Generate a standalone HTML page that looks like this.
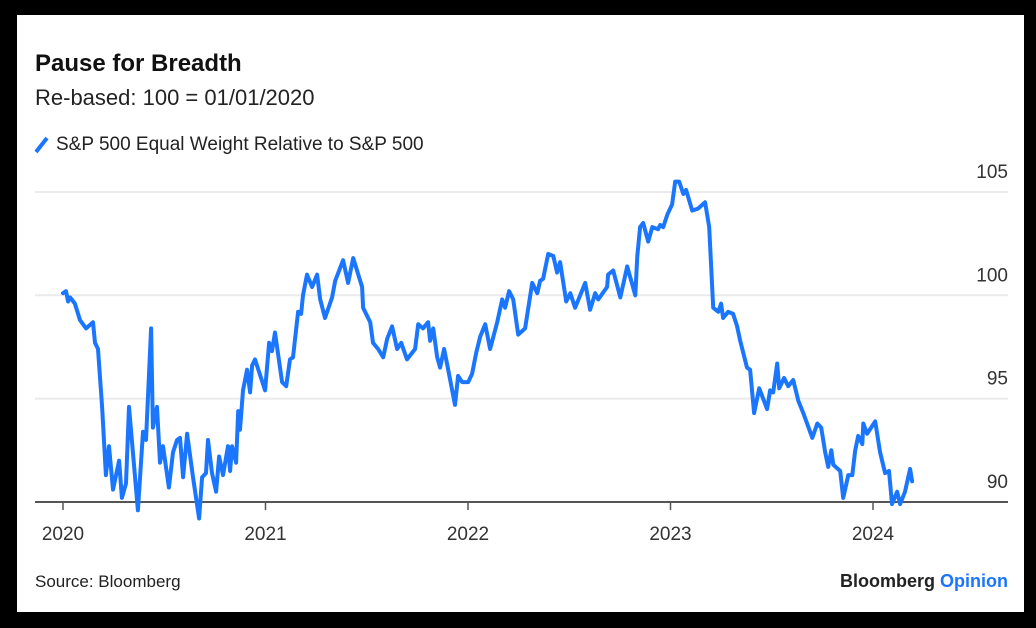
<!DOCTYPE html>
<html><head><meta charset="utf-8"><style>
body{margin:0;background:#000;width:1036px;height:628px;overflow:hidden;font-family:"Liberation Sans",sans-serif}
#panel{position:absolute;left:17px;top:15px;width:1007px;height:597px;background:#fff}
svg{position:absolute;left:0;top:0}
</style></head><body>
<div id="panel"></div>
<svg id="chart" width="1036" height="628">
<text x="35" y="71" font-size="24" font-weight="bold" fill="#111">Pause for Breadth</text>
<text x="35" y="105" font-size="22" fill="#222">Re-based: 100 = 01/01/2020</text>
<line x1="36" y1="152" x2="47" y2="138" stroke="#1a75ff" stroke-width="4"/>
<text x="56" y="150" font-size="19" fill="#222">S&amp;P 500 Equal Weight Relative to S&amp;P 500</text>
<g id="grid"></g><g id="xaxis"></g><g id="series"></g>
<text x="35" y="587" font-size="17" fill="#222">Source: Bloomberg</text>
<text x="1008" y="587" font-size="18" font-weight="bold" text-anchor="end" fill="#222">Bloomberg <tspan fill="#1a75ff">Opinion</tspan></text>
</svg>
<script>
const yTicks=[90,95,100,105];
const xTicks=[2020,2021,2022,2023,2024];
const years=[0,.015,.025,.035,.059,.084,.114,.148,.158,.173,.193,.212,.227,.247,.277,.291,.311,.326,.370,.395,.410,.435,.444,.464,.479,.494,.523,.543,.563,.578,.593,.613,.642,.672,.687,.706,.716,.736,.756,.771,.790,.815,.825,.835,.855,.865,.874,.889,.909,.924,.934,.948,.998,1.018,1.032,1.047,1.082,1.102,1.121,1.136,1.161,1.176,1.185,1.205,1.230,1.255,1.270,1.294,1.329,1.344,1.383,1.408,1.433,1.477,1.482,1.517,1.531,1.556,1.581,1.601,1.625,1.650,1.670,1.699,1.739,1.754,1.778,1.803,1.813,1.828,1.848,1.862,1.882,1.902,1.936,1.951,1.971,2.001,2.020,2.040,2.060,2.085,2.109,2.144,2.169,2.183,2.203,2.223,2.248,2.282,2.317,2.342,2.356,2.371,2.396,2.421,2.440,2.455,2.485,2.505,2.529,2.554,2.579,2.603,2.628,2.643,2.687,2.692,2.717,2.752,2.786,2.826,2.836,2.850,2.865,2.890,2.910,2.939,2.949,2.964,2.984,3.008,3.023,3.043,3.063,3.077,3.107,3.137,3.171,3.191,3.211,3.236,3.250,3.260,3.285,3.309,3.329,3.344,3.378,3.393,3.413,3.438,3.477,3.492,3.507,3.527,3.537,3.561,3.581,3.606,3.631,3.656,3.700,3.725,3.744,3.764,3.779,3.794,3.804,3.838,3.853,3.878,3.898,3.912,3.927,3.947,3.952,3.971,4.011,4.035,4.060,4.079,4.094,4.119,4.134,4.158,4.183,4.193];
const values=[100.1,100.2,99.7,99.9,99.6,98.8,98.4,98.7,97.7,97.4,94.6,91.3,92.7,90.6,92.0,90.2,90.9,94.6,89.6,93.4,93.0,98.4,93.6,94.6,91.9,92.7,90.7,92.4,93.0,93.1,91.2,93.3,91.2,89.2,91.2,91.4,93.0,91.4,90.5,92.2,91.3,92.7,91.5,92.7,91.9,94.4,93.5,95.4,96.4,95.3,96.6,96.9,95.4,97.7,97.3,98.2,95.8,95.6,96.9,97.0,99.2,99.1,100.0,101.0,100.4,101.0,99.8,98.9,99.9,100.7,101.7,100.6,101.8,100.4,99.4,98.7,97.7,97.4,97.0,97.9,98.5,97.4,97.7,96.9,97.4,98.6,98.4,98.7,97.8,98.4,97.0,96.5,97.4,96.4,94.7,96.1,95.8,95.8,96.2,97.2,98.0,98.6,97.4,98.7,99.8,99.4,100.2,99.8,98.1,98.4,100.6,100.1,100.7,100.8,102.0,101.9,101.1,101.6,99.7,100.1,99.4,100.0,100.6,99.3,100.1,99.8,100.4,101.0,101.2,99.9,101.4,100.0,101.9,103.3,103.5,102.6,103.3,103.2,103.4,103.3,103.9,104.4,105.5,105.5,104.9,105.1,104.1,104.2,104.5,103.3,99.4,99.2,99.6,98.9,99.2,99.1,98.5,97.8,96.5,96.4,94.3,95.5,94.5,95.4,95.3,96.7,95.5,96.0,95.6,95.9,94.9,94.3,93.1,93.8,93.6,92.4,91.7,92.5,91.8,91.5,90.2,91.3,91.3,92.5,93.2,92.8,93.8,93.3,93.9,92.4,91.4,91.5,89.9,90.5,89.9,90.5,91.6,91.0];
const NS='http://www.w3.org/2000/svg';
const xs=t=>63+t*202.5;
const ys=v=>502-(v-90)*20.67;
function mk(tag,attrs,parent){const e=document.createElementNS(NS,tag);for(const k in attrs)e.setAttribute(k,attrs[k]);parent.appendChild(e);return e;}
const grid=document.getElementById('grid');
yTicks.forEach(v=>{
  if(v>90){const l=mk('line',{x1:35,x2:1008,y1:ys(v),y2:ys(v),stroke:'#ebebeb','stroke-width':2},grid);
  
  }
  const t=mk('text',{x:1008,y:ys(v)-14,'font-size':19,'text-anchor':'end',fill:'#333'},grid);
  t.textContent=v;
  
  
});
const xa=document.getElementById('xaxis');
const ax=mk('line',{x1:35,x2:1008,y1:502,y2:502,stroke:'#555','stroke-width':2},xa);


xTicks.forEach(y=>{
  const x=xs(y-2020);
  const tk=mk('line',{x1:x,x2:x,y1:502,y2:510,stroke:'#555','stroke-width':1.5},xa);
  
  
  const t=mk('text',{x:x,y:540,'font-size':19,'text-anchor':'middle',fill:'#333'},xa);
  t.textContent=y;
  
  
});
const d=years.map((t,i)=>(i?'L':'M')+xs(t).toFixed(1)+','+ys(values[i]).toFixed(1)).join('');
const p=mk('path',{d:d,fill:'none',stroke:'#1a75ff','stroke-width':4,'stroke-linejoin':'round','stroke-linecap':'round'},document.getElementById('series'));


</script>
</body></html>
